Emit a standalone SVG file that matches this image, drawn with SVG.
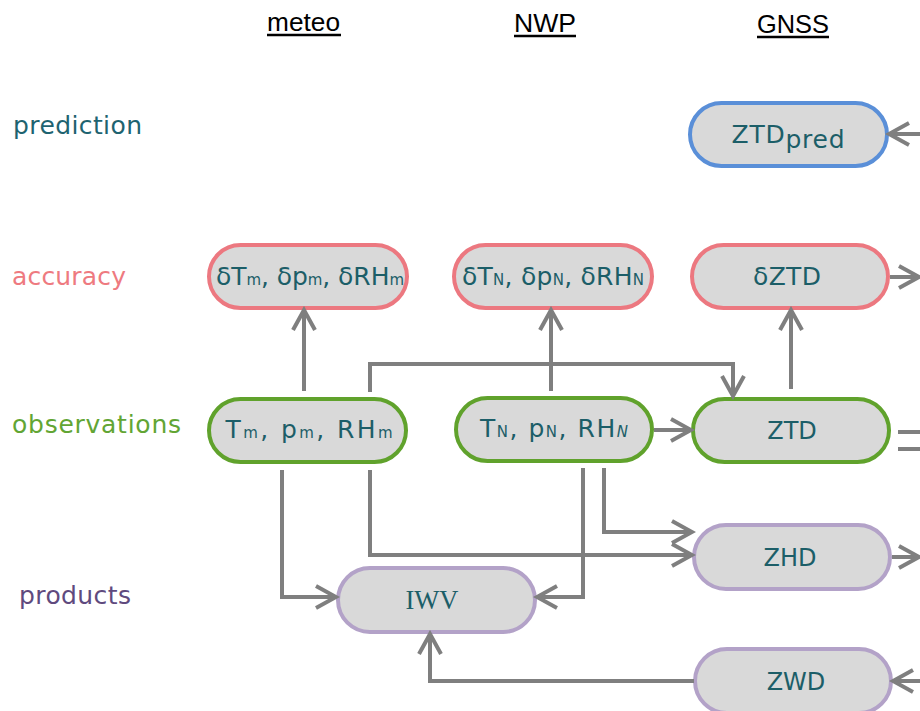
<svg xmlns="http://www.w3.org/2000/svg" width="920" height="711" viewBox="0 0 920 711">
<style>
.hdr{font-family:"Liberation Sans",Arial,sans-serif;font-size:25px;fill:#000}
.ul{stroke:#000;stroke-width:2.5}
.side{font-family:"DejaVu Sans",Verdana,sans-serif;font-size:25px}
.node rect{fill:#d9d9d9;stroke-width:4}
.blue rect{stroke:#5a8fd8}
.red rect{stroke:#ec7880}
.green rect{stroke:#60a22c}
.purple rect{stroke:#b3a2c8}
.lbl{font-family:"DejaVu Sans",Verdana,sans-serif;font-size:24px;fill:#1c5e68;text-anchor:middle}
.big{font-size:25px}
.sub{font-size:15px}
.conn path{fill:none;stroke:#7f7f7f;stroke-width:4;stroke-linejoin:miter}
</style>
<defs>
<marker id="arr" markerUnits="userSpaceOnUse" viewBox="-24 -14 28 28" markerWidth="28" markerHeight="28" refX="-2" refY="0" orient="auto">
<path d="M-20,-11 L0,0 L-20,11" fill="none" stroke="#7f7f7f" stroke-width="4"/>
</marker>
</defs>
<rect width="920" height="711" fill="#fff"/>

<g id="headers">
<text class="hdr" x="267" y="31" textLength="73" lengthAdjust="spacingAndGlyphs">meteo</text>
<line class="ul" x1="267" y1="35" x2="341" y2="35"/>
<text class="hdr" x="514" y="32" textLength="62" lengthAdjust="spacingAndGlyphs">NWP</text>
<line class="ul" x1="514" y1="36" x2="576" y2="36"/>
<text class="hdr" x="757" y="33" textLength="72" lengthAdjust="spacingAndGlyphs">GNSS</text>
<line class="ul" x1="757" y1="37" x2="829" y2="37"/>
</g>

<g id="rows">
<text class="side" x="13" y="134" fill="#1e6370" textLength="129">prediction</text>
<text class="side" x="12" y="285" fill="#ee7a80" textLength="114">accuracy</text>
<text class="side" x="12" y="433" fill="#62a534" textLength="169">observations</text>
<text class="side" x="19" y="604" fill="#5f4a7e" textLength="112">products</text>
</g>

<g id="ZTDpred" class="node blue">
<rect x="690" y="103" width="197" height="63" rx="31.5"/>
<text class="lbl big" x="788" y="143" textLength="113">ZTD<tspan dy="5">pred</tspan></text>
</g>
<g id="dmeteo" class="node red">
<rect x="209" y="245" width="198" height="63" rx="31.5"/>
<text class="lbl big" x="310" y="285" textLength="188">δT<tspan class="sub">m</tspan>, δp<tspan class="sub">m</tspan>, δRH<tspan class="sub">m</tspan></text>
</g>
<g id="dnwp" class="node red">
<rect x="454" y="245" width="198" height="63" rx="31.5"/>
<text class="lbl big" x="553" y="285" textLength="182">δT<tspan class="sub">N</tspan>, δp<tspan class="sub">N</tspan>, δRH<tspan class="sub">N</tspan></text>
</g>
<g id="dZTD" class="node red">
<rect x="692" y="245" width="196" height="63" rx="31.5"/>
<text class="lbl big" x="787" y="285" textLength="68">δZTD</text>
</g>
<g id="meteo" class="node green">
<rect x="209" y="399" width="197" height="63" rx="31.5"/>
<text class="lbl big" x="309" y="438" textLength="167">T<tspan class="sub">m</tspan>, p<tspan class="sub">m</tspan>, RH<tspan class="sub">m</tspan></text>
</g>
<g id="nwp" class="node green">
<rect x="456" y="398" width="196" height="63" rx="31.5"/>
<text class="lbl big" x="554" y="437" textLength="148">T<tspan class="sub">N</tspan>, p<tspan class="sub">N</tspan>, RH<tspan class="sub" font-style="italic">N</tspan></text>
</g>
<g id="ZTD" class="node green">
<rect x="693" y="399" width="196" height="63" rx="31.5"/>
<text class="lbl" x="792" y="439">ZTD</text>
</g>
<g id="ZHD" class="node purple">
<rect x="694" y="525" width="196" height="64" rx="32"/>
<text class="lbl" x="790" y="566">ZHD</text>
</g>
<g id="IWV" class="node purple">
<rect x="338" y="568" width="197" height="64" rx="32"/>
<text x="432" y="609" font-family="'Liberation Serif','Times New Roman',serif" font-size="28" fill="#1c5e68" text-anchor="middle" textLength="53" lengthAdjust="spacingAndGlyphs">IWV</text>
</g>
<g id="ZWD" class="node purple">
<rect x="695" y="649" width="196" height="64" rx="32"/>
<text class="lbl" x="796" y="690">ZWD</text>
</g>

<g id="connectors" class="conn">
<path d="M920,134 H891" marker-end="url(#arr)"/>
<path d="M890,277 H917" marker-end="url(#arr)"/>
<path d="M892,557 H917" marker-end="url(#arr)"/>
<path d="M920,681 H895" marker-end="url(#arr)"/>
<path d="M898,432 H920"/>
<path d="M898,449 H920"/>
<path d="M304,391 V312" marker-end="url(#arr)"/>
<path d="M551,391 V312" marker-end="url(#arr)"/>
<path d="M791,389 V312" marker-end="url(#arr)"/>
<path d="M370,392 V364 H733 V394" marker-end="url(#arr)"/>
<path d="M654,430 H689" marker-end="url(#arr)"/>
<path d="M282,470 V597 H334" marker-end="url(#arr)"/>
<path d="M370,470 V555 H690" marker-end="url(#arr)"/>
<path d="M583,468 V597 H539" marker-end="url(#arr)"/>
<path d="M604,468 V532 H690" marker-end="url(#arr)"/>
<path d="M694,681 H430 V636" marker-end="url(#arr)"/>
</g>
</svg>
